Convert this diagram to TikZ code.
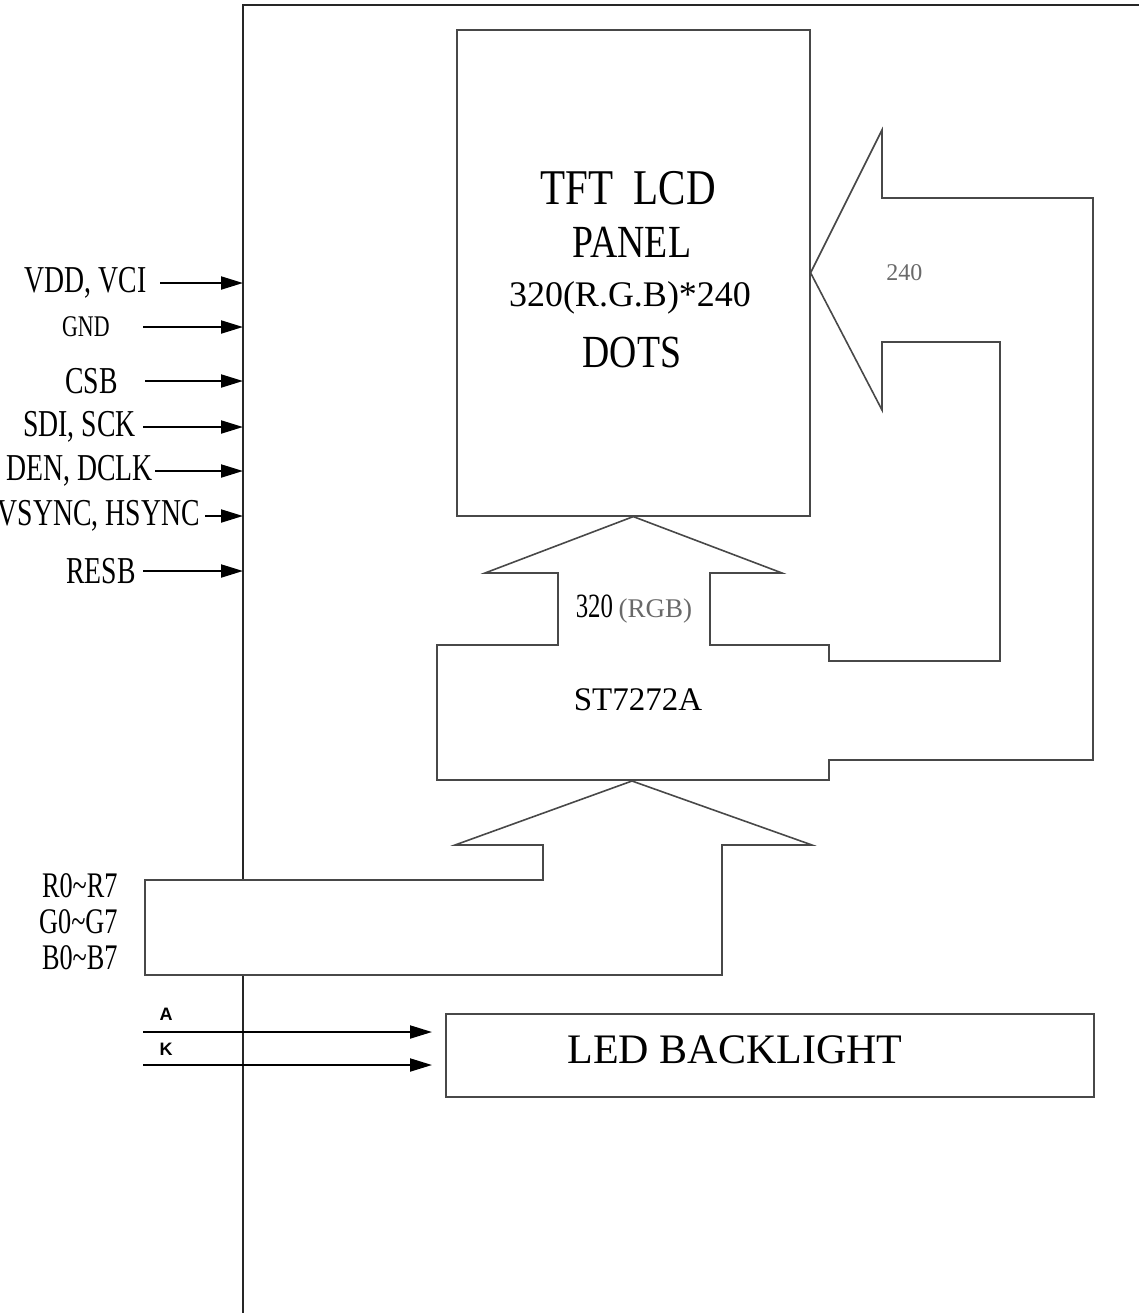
\documentclass[tikz,border=0pt]{standalone}
\usepackage{fontspec}
\setmainfont{Liberation Serif}
\newfontfamily\labelfont[FakeStretch=0.73]{Liberation Serif}
\newfontfamily\panelfont[FakeStretch=0.82]{Liberation Serif}
\newfontfamily\pinfont{Liberation Sans}
\usepackage{tikz}
\usetikzlibrary{arrows.meta, positioning, calc}
\definecolor{LineGray}{RGB}{72, 72, 72}
\definecolor{NoteGray}{RGB}{105, 105, 105}

\begin{document}
\begin{tikzpicture}[x=0.5pt, y=-0.5pt,
  outline/.style={draw=LineGray, line width=0.8pt},
  sig/.style={draw=black, line width=1pt, -{Triangle[length=11pt, width=6.5pt]}},
  pin/.style={anchor=east, inner sep=0pt, font=\labelfont\fontsize{19}{21}\selectfont}]
  \useasboundingbox (0,0) rectangle (1139,1313);

  % module frame, cut where the RGB bus passes
  \coordinate (frametop) at (243,5);
  \draw[outline, draw=black!85] (243,880) -- (frametop) -- (1139,5);
  \draw[outline, draw=black!85] (243,975) -- (243,1313);

  % interface pins
  \node[pin] (vdd) at (147,283) {VDD, VCI};
  \node[pin, font=\labelfont\fontsize{15}{17}\selectfont] (gnd) at (110,327) {GND};
  \node[pin] (csb) at (118,381) {CSB};
  \node[pin] (sdi) at (136,427) {SDI, SCK};
  \node[pin] (den) at (153,471) {DEN, DCLK};
  \node[pin] (vsync) at (200,516) {VSYNC, HSYNC};
  \node[pin] (resb) at (136,571) {RESB};

  \draw[sig] ([xshift=6.5pt]vdd.east) -- (vdd.east -| frametop);
  \draw[sig] ([xshift=16.5pt]gnd.east) -- (gnd.east -| frametop);
  \draw[sig] ([xshift=13.5pt]csb.east) -- (csb.east -| frametop);
  \draw[sig] ([xshift=3.5pt]sdi.east) -- (sdi.east -| frametop);
  \draw[sig] ([xshift=1pt]den.east) -- (den.east -| frametop);
  \draw[sig] ([xshift=2.5pt]vsync.east) -- (vsync.east -| frametop);
  \draw[sig] ([xshift=3.5pt]resb.east) -- (resb.east -| frametop);

  % panel
  \node[outline, anchor=north west, inner sep=0pt,
        minimum width=176.5pt, minimum height=243pt] (panel) at (456,29) {};
  \node[font=\panelfont\fontsize{25}{27}\selectfont] (tft) at (628,188) {TFT\ \ LCD};
  \node[font=\panelfont\fontsize{23}{25}\selectfont] (pnl) at (632,242) {PANEL};
  \node[font=\fontsize{18}{20}\selectfont] (dots) at (630,298) {320(R.G.B)*240};
  \node[font=\panelfont\fontsize{23}{25}\selectfont] (dotlbl) at (632,352) {DOTS};

  % driver with source and gate arrows
  \draw[outline] (829,760) -- (829,780) -- (437,780) -- (437,645) -- (558,645)
    -- (558,573) -- (485,573) -- (panel.south) -- (782,573) -- (710,573)
    -- (710,645) -- (829,645) -- (829,661) -- (1000,661) -- (1000,342)
    -- (882,342) -- (882,410) -- (panel.east) -- (882,130) -- (882,198)
    -- (1093,198) -- (1093,760) -- cycle;
  \node[font=\fontsize{16.5}{18}\selectfont] (drv) at (638,700) {ST7272A};
  \node (src) at (634,609) {\labelfont\fontsize{17}{19}\selectfont 320\,\color{NoteGray}\rmfamily\fontsize{13.5}{15}\selectfont(RGB)};
  \node[anchor=west, inner sep=0pt, text=NoteGray, font=\fontsize{12}{14}\selectfont] (gate) at (886,273) {240};

  % RGB bus
  \draw[outline] (632,781) -- (812,845) -- (722,845) -- (722,975) -- (145,975)
    -- (145,880) -- (543,880) -- (543,845) -- (455,845) -- cycle;
  \node[pin, font=\labelfont\fontsize{18}{18}\selectfont] (rbus) at (118,886) {R0\textasciitilde R7};
  \node[pin, font=\labelfont\fontsize{18}{18}\selectfont] (gbus) at (118,922) {G0\textasciitilde G7};
  \node[pin, font=\labelfont\fontsize{18}{18}\selectfont] (bbus) at (118,958) {B0\textasciitilde B7};

  % backlight
  \node[outline, anchor=north west, inner sep=0pt,
        minimum width=324pt, minimum height=41.5pt] (led) at (445,1013) {};
  \node[font=\fontsize{21}{23}\selectfont] (ledtxt) at (735,1050) {LED BACKLIGHT};
  \coordinate (ain) at (143,1032);
  \coordinate (kin) at (143,1065);
  \node[font=\pinfont\bfseries\fontsize{9}{11}\selectfont] (alab) at (166,1014) {A};
  \node[font=\pinfont\bfseries\fontsize{9}{11}\selectfont] (klab) at (166,1049) {K};
  \draw[sig, shorten >=6.5pt] (ain) -- (ain -| led.west);
  \draw[sig, shorten >=6.5pt] (kin) -- (kin -| led.west);
\end{tikzpicture}
\end{document}
